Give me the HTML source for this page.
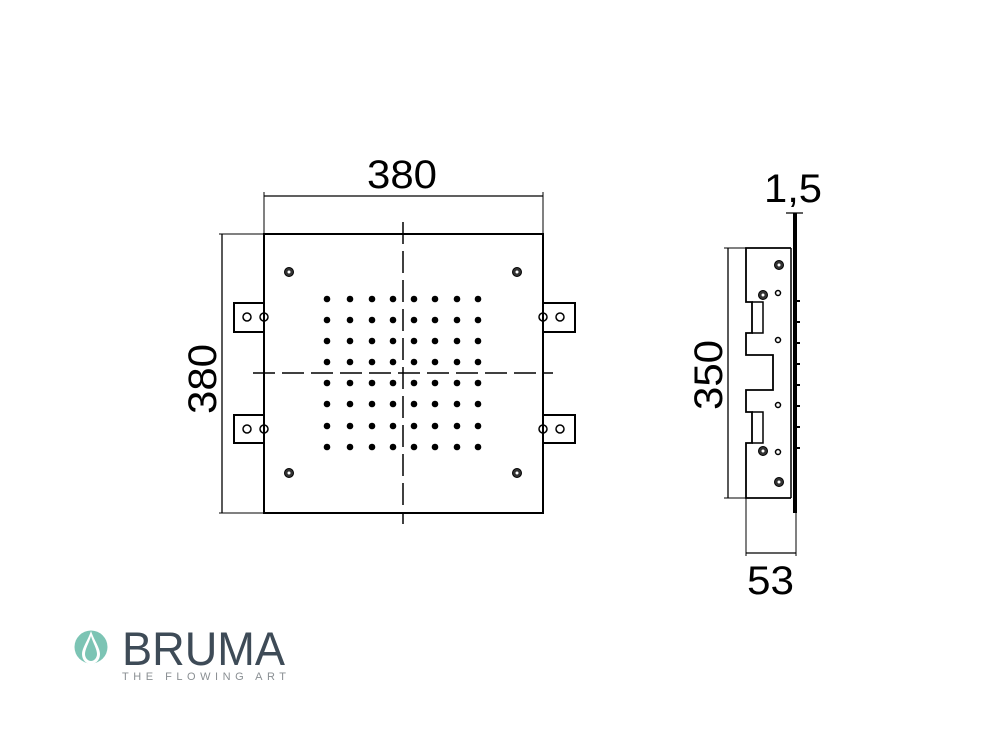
<!DOCTYPE html>
<html><head><style>body{margin:0;background:#fff}svg{display:block}</style></head><body>
<svg width="992" height="743" viewBox="0 0 992 743" xmlns="http://www.w3.org/2000/svg" font-family="Liberation Sans, sans-serif">
<defs>
<g id="row">
<circle cx="327" cy="0" r="3.3"/><circle cx="350" cy="0" r="3.3"/><circle cx="372" cy="0" r="3.3"/><circle cx="393" cy="0" r="3.3"/><circle cx="414" cy="0" r="3.3"/><circle cx="435" cy="0" r="3.3"/><circle cx="457" cy="0" r="3.3"/><circle cx="478" cy="0" r="3.3"/>
</g>
</defs>
<g stroke="#000" fill="none" stroke-width="1.5">
<rect x="264" y="234" width="279" height="279" stroke-width="2"/>
<line x1="264" y1="192" x2="264" y2="234" stroke-width="1"/>
<line x1="543" y1="192" x2="543" y2="234" stroke-width="1"/>
<line x1="264" y1="196" x2="543" y2="196" stroke-width="1.3"/>
<line x1="219" y1="234" x2="264" y2="234" stroke-width="1"/>
<line x1="219" y1="513" x2="264" y2="513" stroke-width="1"/>
<line x1="222" y1="234" x2="222" y2="513" stroke-width="1.3"/>
<line x1="403" y1="222" x2="403" y2="524" stroke-dasharray="22,7" stroke-width="1.5"/>
<line x1="253" y1="373" x2="553" y2="373" stroke-dasharray="22,7" stroke-width="1.5"/>
<path d="M264 303 H234 V332 H264 M264 415 H234 V443 H264 M543 303 H575 V332 H543 M543 415 H575 V443 H543" stroke-width="2"/>
<circle cx="247" cy="317" r="4"/><circle cx="264" cy="317" r="4"/>
<circle cx="247" cy="429" r="4"/><circle cx="264" cy="429" r="4"/>
<circle cx="560" cy="317" r="4"/><circle cx="543" cy="317" r="4"/>
<circle cx="560" cy="429" r="4"/><circle cx="543" cy="429" r="4"/>
<path d="M791 248 H746 V302 H752 V333 H746 V355 H773 V390 H746 V412 H752 V443 H746 V498 H791" stroke-width="1.8"/>
<path d="M752 302 H763 V333 H752 M752 412 H763 V443 H752" stroke-width="1.5"/>
<line x1="791" y1="248" x2="791" y2="498" stroke-width="1.5"/>
<line x1="795" y1="213" x2="795" y2="513" stroke-width="4"/>
<line x1="724" y1="248" x2="746" y2="248" stroke-width="1"/>
<line x1="724" y1="498" x2="746" y2="498" stroke-width="1"/>
<line x1="728" y1="248" x2="728" y2="498" stroke-width="1.3"/>
<line x1="746" y1="498" x2="746" y2="556" stroke-width="1"/>
<line x1="796" y1="513" x2="796" y2="556" stroke-width="1"/>
<line x1="746" y1="553" x2="796" y2="553" stroke-width="1.3"/>
<line x1="786" y1="213" x2="803" y2="213" stroke-width="1.3"/>
<circle cx="778" cy="293" r="2.5"/><circle cx="778" cy="340" r="2.5"/>
<circle cx="778" cy="405" r="2.5"/><circle cx="778" cy="452" r="2.5"/>
</g>
<g fill="#000">
<use href="#row" y="299"/><use href="#row" y="320"/><use href="#row" y="341"/><use href="#row" y="362"/><use href="#row" y="383"/><use href="#row" y="404"/><use href="#row" y="426"/><use href="#row" y="447"/>
</g>
<g fill="#333" stroke="#000" stroke-width="1">
<circle cx="289" cy="272" r="4.5"/><circle cx="517" cy="272" r="4.5"/><circle cx="289" cy="473" r="4.5"/><circle cx="517" cy="473" r="4.5"/>
<circle cx="779" cy="265" r="4.5"/><circle cx="763" cy="295" r="4.5"/><circle cx="763" cy="451" r="4.5"/><circle cx="779" cy="482" r="4.5"/>
</g>
<g fill="#fff"><circle cx="289" cy="272" r="1.5"/><circle cx="517" cy="272" r="1.5"/><circle cx="289" cy="473" r="1.5"/><circle cx="517" cy="473" r="1.5"/>
<circle cx="779" cy="265" r="1.5"/><circle cx="763" cy="295" r="1.5"/><circle cx="763" cy="451" r="1.5"/><circle cx="779" cy="482" r="1.5"/></g>
<g fill="#000"><rect x="797" y="300" width="3" height="2"/><rect x="797" y="321" width="3" height="2"/><rect x="797" y="342" width="3" height="2"/><rect x="797" y="363" width="3" height="2"/><rect x="797" y="384" width="3" height="2"/><rect x="797" y="405" width="3" height="2"/><rect x="797" y="426" width="3" height="2"/><rect x="797" y="447" width="3" height="2"/></g>
<g font-size="40" fill="#000">
<text x="367" y="188" textLength="70" lengthAdjust="spacingAndGlyphs">380</text>
<text transform="translate(216,414) rotate(-90)" textLength="70" lengthAdjust="spacingAndGlyphs">380</text>
<text transform="translate(722,410) rotate(-90)" textLength="70" lengthAdjust="spacingAndGlyphs">350</text>
<text x="764" y="202" textLength="58" lengthAdjust="spacingAndGlyphs">1,5</text>
<text x="747" y="594" textLength="47" lengthAdjust="spacingAndGlyphs">53</text>
</g>
<circle cx="91" cy="647" r="16.5" fill="#7cc4b4"/>
<path d="M91 631 C88 640 82 648 82 654 C82 660 86 664 91 664 C96 664 100 660 100 654 C100 648 94 640 91 631 Z" fill="#fff"/>
<path d="M91 636 C89 643 85 649 85 654 C85 658 88 661 91 661 C94 661 97 658 97 654 C97 649 93 643 91 636 Z" fill="#7cc4b4"/>
<text x="122" y="665" font-size="47" fill="#3e4b57" textLength="163" lengthAdjust="spacingAndGlyphs">BRUMA</text>
<text x="122" y="680" font-size="11" fill="#8a8f93" textLength="164" lengthAdjust="spacing">THE FLOWING ART</text>
</svg>
</body></html>
